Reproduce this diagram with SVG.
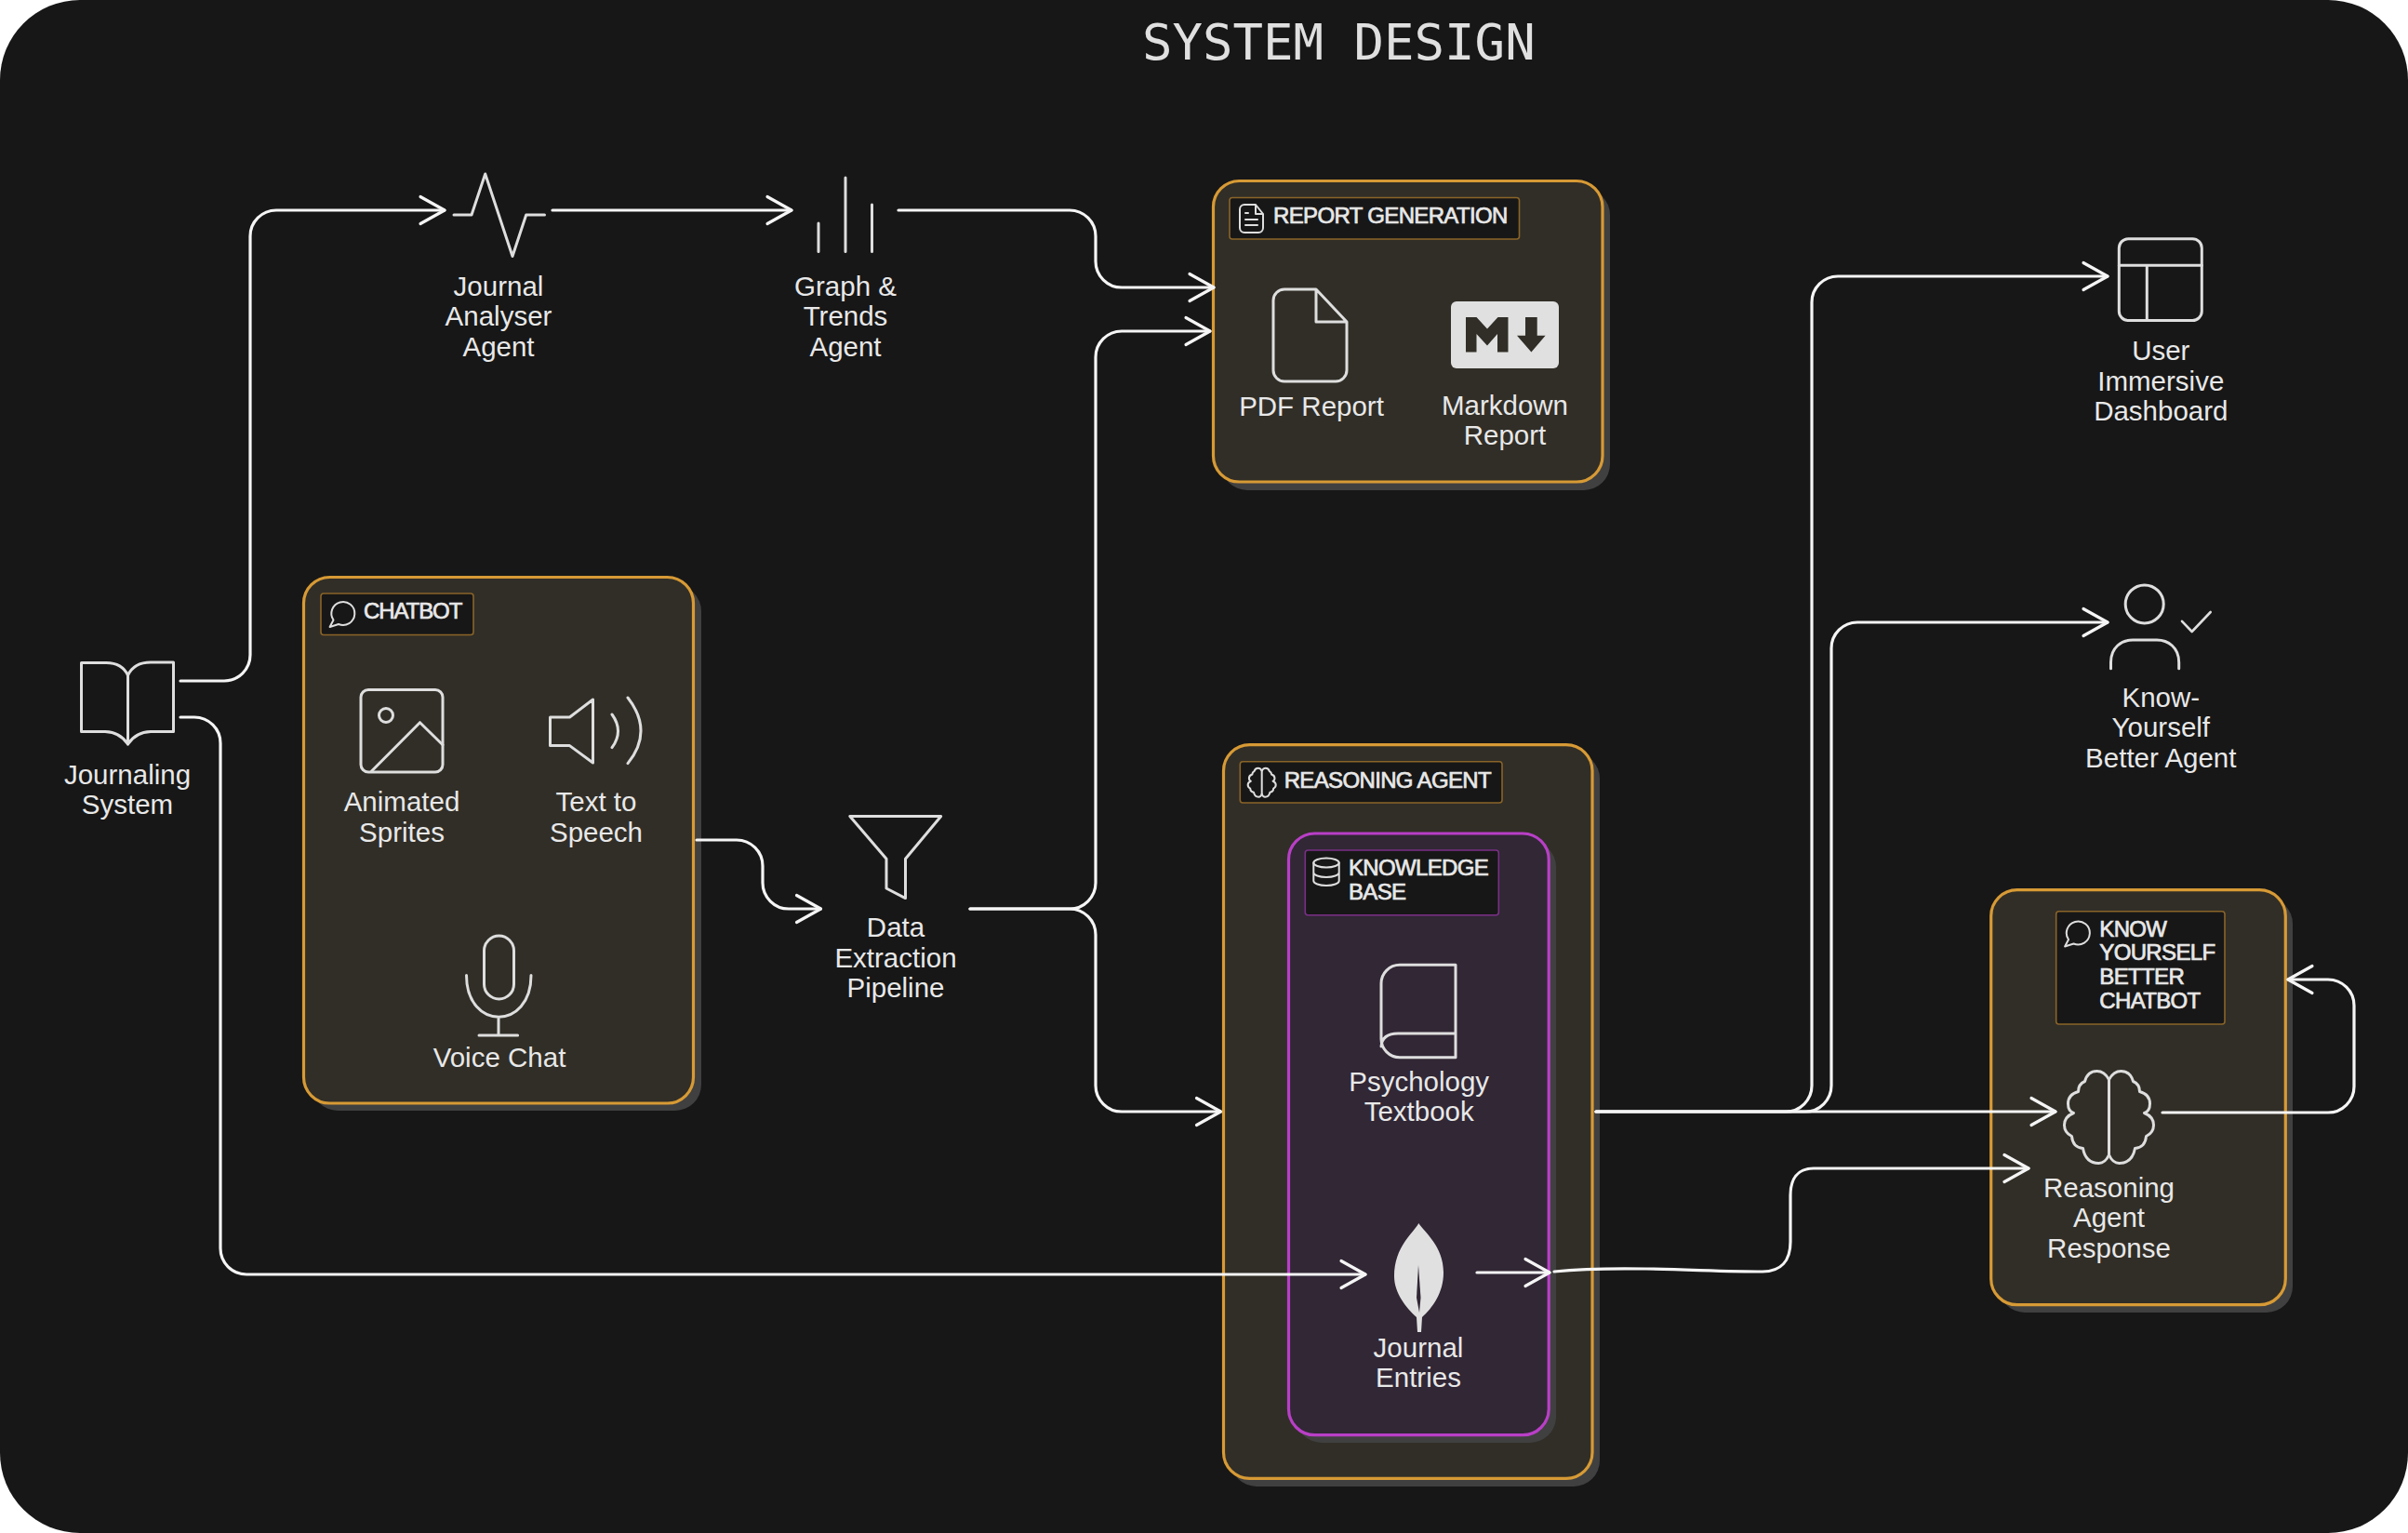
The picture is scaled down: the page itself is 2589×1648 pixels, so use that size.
<svg xmlns="http://www.w3.org/2000/svg" xmlns:xlink="http://www.w3.org/1999/xlink" width="2589" height="1648" viewBox="0 0 2589 1648">
<style>
text{font-family:"Liberation Sans",Arial,sans-serif;fill:#e8e8e8}
.l{font-size:29.500px;text-anchor:middle}
.t{font-size:24px;letter-spacing:-0.650px;stroke:#e8e8e8;stroke-width:.7px}
.title{font-family:"DejaVu Sans Mono",monospace;font-size:54px;fill:#e0e0e0}
.box{fill:#312e27;stroke:#d79a35;stroke-width:3.200}
.kb{fill:#312735;stroke:#b93fc7;stroke-width:3.200}
.sh{fill:#404040}
.tag{fill:#171717;stroke:#8a6428;stroke-width:1.600}
.ktag{fill:#171717;stroke:#7b2f87;stroke-width:1.600}
.i{fill:none;stroke:#dedede;stroke-width:3;stroke-linejoin:round;stroke-linecap:round}
.s{stroke-width:2}
.c{fill:none;stroke:#f5f5f5;stroke-width:3.200;stroke-linecap:round;stroke-linejoin:round}
.a{marker-end:url(#arrow)}
</style>
<defs>
<marker id="arrow" markerUnits="userSpaceOnUse" markerWidth="40" markerHeight="40" refX="30" refY="20" orient="auto" overflow="visible">
<path d="M4 5.500L30 20L4 34.500" fill="none" stroke="#f5f5f5" stroke-width="3.200" stroke-linecap="round" stroke-linejoin="round"/>
</marker>
<g id="hemi"><path d="M0,-40Q-5,-49 -13,-49Q-23,-49 -26,-38Q-33,-35 -33,-27Q-44,-24 -44,-14Q-44,-6 -38,-4Q-48,0 -48,9Q-48,17 -40,21Q-39,33 -28,34Q-25,50 -11,50Q-4,50 0,41"/></g>
<g id="brain"><use href="#hemi"/><use href="#hemi" transform="scale(-1,1)"/><path d="M0,-40V41"/></g>
<path id="bubble" d="M358.500 666.500A12.500 12.500 0 1 1 364 671L354.600 674Z"/>
</defs>
<rect id="canvas" x="0" y="0" width="2589" height="1648" rx="86" fill="#171717"/>
<text class="title" x="1228" y="64">SYSTEM DESIGN</text>

<g id="journaling-system">
<path class="i" d="M87.500 712.500H113Q131 712 137.500 726Q144 712 162 712H186.500V786.500H162Q146 787 137.500 800Q129 787 113 786.500H87.500Z"/>
<path class="i" d="M137.500 726V800"/>
<text class="l" x="137" y="842.500">Journaling</text><text class="l" x="137" y="874.500">System</text>
</g>
<g id="journal-analyser-agent">
<path class="i" d="M488 231H507L521.700 187L551 275.500L565.700 231H585.500"/>
<text class="l" x="536" y="317.500">Journal</text><text class="l" x="536" y="350">Analyser</text><text class="l" x="536" y="382.500">Agent</text>
</g>
<g id="graph-trends-agent">
<path class="i" d="M880 240V270.600M909 191V270.600M937.500 220V270.600"/>
<text class="l" x="909" y="317.500">Graph &amp;</text><text class="l" x="909" y="350">Trends</text><text class="l" x="909" y="382.500">Agent</text>
</g>

<g id="report-generation">
<rect class="sh" x="1313" y="203" width="418" height="324" rx="28"/>
<rect class="box" x="1304.500" y="194.500" width="418.500" height="323.500" rx="28"/>
<rect class="tag" x="1322" y="212.500" width="311.500" height="44.500" rx="3"/>
<path class="i s" d="M1339 220H1350L1358 230V245a5 5 0 0 1-5 5H1338a5 5 0 0 1-5-5V225a5 5 0 0 1 5-5ZM1350 220V230H1358M1339 229h3M1339 236h13M1339 242h13"/>
<text class="t" x="1369" y="240">REPORT GENERATION</text>
<path class="i" d="M1381 311H1415L1448 346V398a12 12 0 0 1-12 12H1381a12 12 0 0 1-12-12V323a12 12 0 0 1 12-12ZM1415 311V346H1448"/>
<text class="l" x="1410" y="446.500">PDF Report</text>
<rect x="1560" y="324" width="116" height="72" rx="6" fill="#e0e0e0"/>
<path fill="#312e27" d="M1576 378.600V341H1587.500L1599 353.600L1610.500 341H1621.500V378.600H1610V359L1599 371.400L1587.500 359V378.600ZM1640 341H1652.700V360.700H1661.600L1646.400 378.600L1631 360.700H1640Z"/>
<text class="l" x="1618" y="446">Markdown</text><text class="l" x="1618" y="478">Report</text>
</g>

<g id="chatbot">
<rect class="sh" x="335" y="629" width="419" height="565" rx="28"/>
<rect class="box" x="326.500" y="620.500" width="419" height="565.500" rx="28"/>
<rect class="tag" x="345" y="638" width="164" height="44.500" rx="3"/>
<use href="#bubble" class="i s"/>
<text class="t" x="391" y="665" style="letter-spacing:-1.100px">CHATBOT</text>
<rect class="i" x="388" y="741.500" width="88" height="88.500" rx="8"/>
<circle class="i" cx="415" cy="769" r="7.500"/>
<path class="i" d="M399.500 829L451.500 776.700L476 800.800"/>
<text class="l" x="432" y="872">Animated</text><text class="l" x="432" y="904.500">Sprites</text>
<path class="i" d="M591.500 771H612.500L637.500 752V820L612.500 801.600H591.500Z"/>
<path class="i" d="M658 768Q671 786 658 803.600M675 750Q703 786 675 820.600"/>
<text class="l" x="641" y="872">Text to</text><text class="l" x="641" y="904.500">Speech</text>
<rect class="i" x="520.500" y="1006" width="32" height="68" rx="16"/>
<path class="i" d="M501.500 1048.600C501.500 1108 571 1108 571 1048.600M536 1094V1113M515 1113H556.600"/>
<text class="l" x="537" y="1146.500">Voice Chat</text>
</g>

<g id="data-extraction-pipeline">
<path class="i" d="M913.800 877.500H1011.700L973.500 923.300V965.600L953 955V923.300Z"/>
<text class="l" x="963" y="1007">Data</text><text class="l" x="963" y="1039.500">Extraction</text><text class="l" x="963" y="1071.500">Pipeline</text>
</g>

<g id="reasoning-agent">
<rect class="sh" x="1323" y="809" width="397" height="789" rx="28"/>
<rect class="box" x="1315.500" y="800.700" width="396.500" height="788.600" rx="28"/>
<rect class="tag" x="1333.300" y="818.700" width="281.700" height="44.300" rx="3"/>
<use href="#brain" class="i" style="stroke-width:6.500" transform="translate(1356.700 841) scale(.313)"/>
<text class="t" x="1380.700" y="846.700">REASONING AGENT</text>
</g>

<g id="knowledge-base">
<rect class="sh" x="1393" y="904" width="280" height="647" rx="28"/>
<rect class="kb" x="1385.500" y="896" width="279.700" height="646.700" rx="28"/>
<rect class="ktag" x="1403.300" y="914" width="208" height="69.700" rx="3"/>
<path class="i s" d="M1412.300 927.500V947a13.700 5 0 0 0 27.400 0V927.500M1412.300 938a13.700 5 0 0 0 27.400 0"/>
<ellipse class="i s" cx="1426" cy="927.500" rx="13.700" ry="5"/>
<text class="t" x="1450" y="941">KNOWLEDGE</text><text class="t" x="1450" y="966.700">BASE</text>
</g>
<g id="psychology-textbook">
<path class="i" d="M1565 1037.300H1505a20 20 0 0 0-20 20V1116a20 20 0 0 0 20 20.700H1565ZM1565 1111H1503Q1486 1111 1485 1125"/>
<text class="l" x="1525.700" y="1172.700">Psychology</text><text class="l" x="1525.700" y="1205">Textbook</text>
</g>
<g id="journal-entries">
<path fill="#e0e0e0" d="M1525.300 1315C1520 1325 1499 1340 1499 1372C1499 1390 1512 1406 1523 1416L1524 1432H1528L1529 1416C1540 1406 1552 1390 1552 1368C1552 1340 1532 1325 1525.300 1315Z"/>
<path fill="#312735" d="M1525 1360L1523 1395L1526 1411L1527.500 1395Z"/>
<text class="l" x="1525" y="1458.700">Journal</text><text class="l" x="1525" y="1490.700">Entries</text>
</g>

<g id="know-yourself-better-chatbot">
<rect class="sh" x="2149" y="965" width="316" height="446" rx="28"/>
<rect class="box" x="2140.700" y="956.700" width="316.600" height="446" rx="28"/>
<rect class="tag" x="2210.700" y="979.700" width="181.300" height="121.300" rx="3"/>
<use href="#bubble" class="i s" transform="translate(1865.500 343.500)"/>
<text class="t" x="2257.300" y="1006.700">KNOW</text><text class="t" x="2257.300" y="1032.300">YOURSELF</text><text class="t" x="2257.300" y="1058">BETTER</text><text class="t" x="2257.300" y="1083.700">CHATBOT</text>
<use href="#brain" class="i" transform="translate(2267.500 1200.500)"/>
<text class="l" x="2267.500" y="1286.700">Reasoning</text><text class="l" x="2267.500" y="1319">Agent</text><text class="l" x="2267.500" y="1351.500">Response</text>
</g>

<g id="user-immersive-dashboard">
<rect class="i" x="2278.300" y="256.700" width="89" height="87.800" rx="10"/>
<path class="i" d="M2278.300 285.300H2367.300M2308.300 285.300V344.500"/>
<text class="l" x="2323.300" y="386.500">User</text><text class="l" x="2323.300" y="419.500">Immersive</text><text class="l" x="2323.300" y="452">Dashboard</text>
</g>
<g id="know-yourself-better-agent">
<circle class="i" cx="2305.700" cy="649.400" r="20.500"/>
<path class="i" d="M2269.500 718.800V712C2269.500 696 2281 688 2293 688H2319C2331 688 2342.700 696 2342.700 712V718.800"/>
<path class="i" style="stroke-width:2.600" d="M2346 667.800L2356.700 679L2376.700 658"/>
<text class="l" x="2323.300" y="759.500">Know-</text><text class="l" x="2323.300" y="792">Yourself</text><text class="l" x="2323.300" y="824.500">Better Agent</text>
</g>

<g id="connectors">
<path class="c a" d="M194 732H241a28 28 0 0 0 28-28V254a28 28 0 0 1 28-28H478"/>
<path class="c a" d="M594 226H851"/>
<path class="c a" d="M966 226H1150a28 28 0 0 1 28 28V281a28 28 0 0 0 28 28H1305"/>
<path class="c a" d="M1043 977H1150a28 28 0 0 0 28-28V384a28 28 0 0 1 28-28H1301"/>
<path class="c a" d="M1043 977H1150a28 28 0 0 1 28 28V1167a28 28 0 0 0 28 28H1312.500"/>
<path class="c a" d="M749 903H792a28 28 0 0 1 28 28V949a28 28 0 0 0 28 28H882.500"/>
<path class="c a" d="M194 771H209a28 28 0 0 1 28 28V1342a28 28 0 0 0 28 28H1468"/>
<path class="c a" d="M1588 1368H1666"/>
<path class="c a" d="M1671 1367C1700 1364 1740 1363.500 1770 1364C1820 1365 1860 1367 1895 1367C1915 1367 1925 1355 1925 1335V1285C1925 1268 1932 1256 1950 1256H2181"/>
<path class="c a" d="M1716 1195H2210"/>
<path class="c a" d="M1716 1195H1920a28 28 0 0 0 28-28V325a28 28 0 0 1 28-28H2266"/>
<path class="c a" d="M1716 1195H1941a28 28 0 0 0 28-28V697a28 28 0 0 1 28-28H2266"/>
<path class="c a" d="M2325 1196H2503a28 28 0 0 0 28-28V1081a28 28 0 0 0-28-28H2460"/>
</g>
</svg>
